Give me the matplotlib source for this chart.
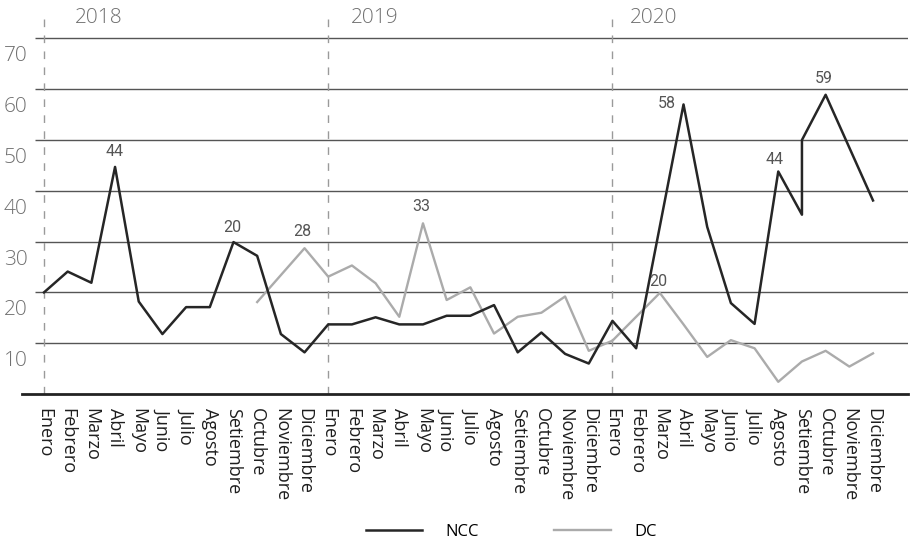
import matplotlib.pyplot as plt
import matplotlib.transforms as mtransforms
import numpy as np

meses = ["Enero", "Febrero", "Marzo", "Abril", "Mayo", "Junio", "Julio",
         "Agosto", "Setiembre", "Octubre", "Noviembre", "Diciembre"]
anios = ["2018", "2019", "2020"]
etiquetas_x = meses * 3

# NCC: Setiembre 2020 has two readings (vertical jump)
ncc = [20, 24.1, 21.9, 44.7, 18.2, 11.8, 17.1, 17.1, 29.9, 27.2, 11.8, 8.2,
       13.7, 13.7, 15.1, 13.7, 13.7, 15.4, 15.4, 17.5, 8.2, 12.1, 7.9, 6.0,
       14.4, 9.0, 33.0, 57.0, 32.9, 17.9, 13.8, 43.8, 35.3, 50.0, 58.9, 48.5, 38.1]
ncc_pos = list(range(33)) + [32] + list(range(33, 36))

dc = [np.nan] * 9 + [18.1, 23.4, 28.7,
      23.1, 25.3, 21.8, 15.2, 33.6, 18.5, 21.0, 11.9, 15.2, 16.0, 19.2, 8.5,
      10.5, 15.2, 19.9, 13.7, 7.3, 10.6, 9.0, 2.4, 6.4, 8.5, 5.4, 8.0]

y_ticks = [10, 20, 30, 40, 50, 60, 70]

# (serie, posicion, texto, dx_pt, dy_pt)
anotaciones = [
    ("ncc", 3, "44", 0, 11),
    ("ncc", 8, "20", -1, 10.5),
    ("dc", 11, "28", -1.5, 12),
    ("dc", 16, "33", -1.5, 12),
    ("ncc", 27, "58", -12, 1),
    ("dc", 26, "20", -1, 8),
    ("ncc", 31, "44", -3, 8.5),
    ("ncc", 33, "59", -1, 12),
]

plt.rcParams["font.family"] = ["Open Sans", "DejaVu Sans"]

fig = plt.figure(figsize=(9.11, 5.45), dpi=100)
ax = fig.add_axes([22 / 911, 151 / 545, 886 / 911, 382 / 545])

px = 23.69
xmin = -22 / px
xmax = 35 + 35 / px
ax.set_xlim(xmin, xmax)
ax.set_ylim(0, 382 / 5.08)

# gridlines
ax.hlines(y_ticks, -0.4, xmax, color="#555555", lw=1, zorder=1)

# year separators
for i, a in enumerate(anios):
    ax.axvline(i * 12, color="#9a9a9a", lw=1, ls=(0, (5.5, 6)), zorder=1)
offs = [2.3, 1.95, 1.75]
for i, a in enumerate(anios):
    ax.text(i * 12 + offs[i], 74.0, a, ha="center", va="center",
            fontsize=15, color="#707070", fontweight="light")

x = np.arange(36)
l1, = ax.plot(ncc_pos, ncc, color="#262626", lw=1.8, label="NCC", zorder=3)
l2, = ax.plot(x, dc, color="#ababab", lw=1.7, label="DC", zorder=2)

for serie, pos, txt, dx, dy in anotaciones:
    if serie == "ncc":
        k = len(ncc_pos) - 1 - ncc_pos[::-1].index(pos)
        yv = ncc[k]
    else:
        yv = dc[pos]
    ax.annotate(txt, (pos, yv), xytext=(dx, dy), textcoords="offset points",
                ha="center", va="center", fontsize=11.5, color="#555555",
                family="Roboto")

ax.set_xticks(x)
ax.set_xticklabels(etiquetas_x, rotation=270, fontsize=13, color="#1e1e1e")
ax.tick_params(axis="x", length=0, pad=10)

ax.set_yticks(y_ticks)
ax.set_yticklabels([str(v) for v in y_ticks], fontsize=15, color="#707070",
                   fontweight="light")
ax.tick_params(axis="y", length=0, pad=-4)
off = mtransforms.ScaledTranslation(0, -15.5 / 100, fig.dpi_scale_trans)
for lab in ax.get_yticklabels():
    lab.set_transform(lab.get_transform() + off)

for s in ["top", "right", "left"]:
    ax.spines[s].set_visible(False)
ax.spines["bottom"].set_color("#222222")
ax.spines["bottom"].set_linewidth(2)

fig.legend(handles=[l1, l2], loc="center", bbox_to_anchor=(0.561, 0.024),
           ncol=2, frameon=False, fontsize=12, handlelength=3.4,
           handletextpad=1.4, columnspacing=4.5)

fig.savefig("out.png", dpi=100)
